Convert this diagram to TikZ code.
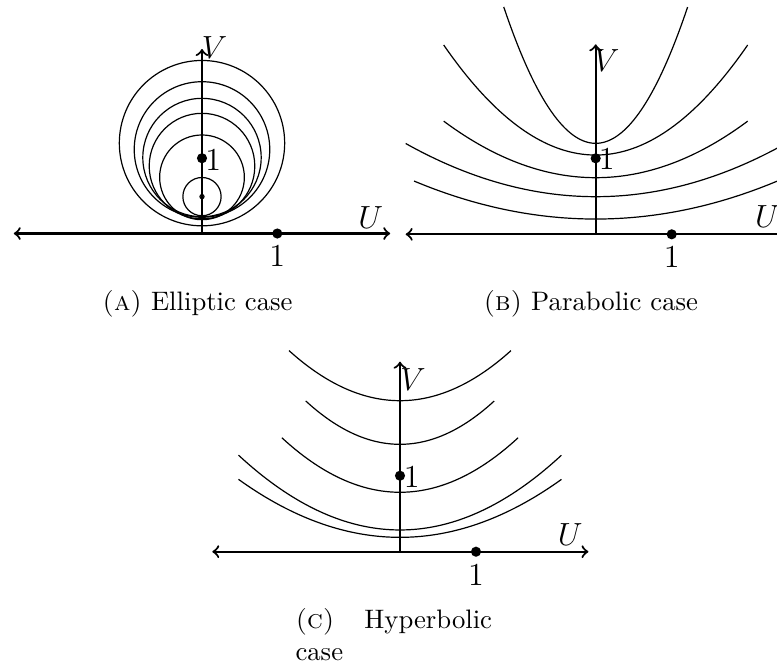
\documentclass[tikz,border=0pt]{standalone}
\begin{document}
\begin{tikzpicture}[
  axisline/.style={line width=0.8pt},
  curveline/.style={line width=0.45pt},
  dotmark/.style={circle, fill=black, inner sep=0pt, minimum size=3.8pt},
  lbl/.style={font=\large, inner sep=0pt, anchor=center},
  capt/.style={font=\normalsize, inner sep=0pt, anchor=base}
]
\path[use as bounding box] (0,0) rectangle (10.2237,-8.7632);
\clip (0,0) rectangle (10.2237,-8.7632);

% ---------- Panel A: elliptic ----------
\begin{scope}[shift={(2.6579,-3.0724)}, scale=0.9908]
  \coordinate (AL) at (-2.5,0); \coordinate (AR) at (2.5,0);
  \coordinate (AO) at (0,0);    \coordinate (AT) at (0,2.45);
  \foreach \c/\r in {0.49/0.027, 0.49/0.254, 0.746/0.5625, 0.895/0.701, 1.009/0.786, 1.116/0.90, 1.20/1.098}
    \draw[curveline] (0,\c) circle[radius=\r];
  \draw[axisline,<->] (AL) -- (AR);
  \draw[axisline,->] (AO) -- (AT);
  \node[dotmark] (Au) at (1,0) {};
  \node[dotmark] (Av) at (0,1) {};
  \node[lbl] (Aul) at (1,-0.305) {$1$};
  \node[lbl] (Avl) at (0.15,0.975) {$1$};
  \node[lbl] (AV) at (0.166,2.47) {$V$};
  \node[lbl] (AU) at (2.24,0.212) {$U$};
\end{scope}

% ---------- Panel B: parabolic ----------
\begin{scope}[shift={(7.8382,-3.0829)}]
  \coordinate (BL) at (-2.5,0); \coordinate (BR) at (2.5,0);
  \coordinate (BO) at (0,0);    \coordinate (BT) at (0,2.5);
  \draw[curveline] plot[domain=-1.21:1.21, samples=80] (\x,{1.197+1.226*\x*\x});
  \draw[curveline] plot[domain=-2:2, samples=80] (\x,{1.043+0.362*\x*\x});
  \draw[curveline] plot[domain=-2:2, samples=80] (\x,{0.745+0.186*\x*\x});
  \draw[curveline] plot[domain=-2.5:2.5, samples=80] (\x,{0.495+0.112*\x*\x});
  \draw[curveline] plot[domain=-2.39:2.39, samples=80] (\x,{0.201+0.0875*\x*\x});
  \draw[axisline,<->] (BL) -- (BR);
  \draw[axisline,->] (BO) -- (BT);
  \node[dotmark] (Bu) at (1,0) {};
  \node[dotmark] (Bv) at (0,1) {};
  \node[lbl] (Bul) at (1,-0.305) {$1$};
  \node[lbl] (Bvl) at (0.145,0.988) {$1$};
  \node[lbl] (BV) at (0.145,2.28) {$V$};
  \node[lbl] (BU) at (2.26,0.23) {$U$};
\end{scope}

% ---------- Panel C: hyperbolic ----------
\begin{scope}[shift={(5.2632,-7.2592)}]
  \coordinate (CL) at (-2.47,0); \coordinate (CR) at (2.48,0);
  \coordinate (CO) at (0,0);     \coordinate (CT) at (0,2.5);
  \draw[curveline] plot[domain=-1.46:1.46, samples=80] (\x,{1.987+0.309*\x*\x});
  \draw[curveline] plot[domain=-1.24:1.24, samples=80] (\x,{1.413+0.371*\x*\x});
  \draw[curveline] plot[domain=-1.555:1.555, samples=80] (\x,{0.782+0.297*\x*\x});
  \draw[curveline] plot[domain=-2.125:2.125, samples=80] (\x,{0.286+0.218*\x*\x});
  \draw[curveline] plot[domain=-2.125:2.125, samples=80] (\x,{0.189+0.169*\x*\x});
  \draw[axisline,<->] (CL) -- (CR);
  \draw[axisline,->] (CO) -- (CT);
  \node[dotmark] (Cu) at (1,0) {};
  \node[dotmark] (Cv) at (0,1) {};
  \node[lbl] (Cul) at (1,-0.305) {$1$};
  \node[lbl] (Cvl) at (0.154,0.987) {$1$};
  \node[lbl] (CV) at (0.17,2.27) {$V$};
  \node[lbl] (CU) at (2.24,0.23) {$U$};
\end{scope}

% ---------- captions ----------
\node[capt] (capA) at (2.5987,-4.088) {\textsc{(a)} Elliptic case};
\node[capt] (capB) at (7.7737,-4.088) {\textsc{(b)} Parabolic case};
\node[inner sep=0pt, anchor=base west] (capC) at (3.8816,-8.2671)
  {\parbox[t]{73.6pt}{\textsc{(c)}\hfill Hyperbolic\\case}};
\end{tikzpicture}
\end{document}
